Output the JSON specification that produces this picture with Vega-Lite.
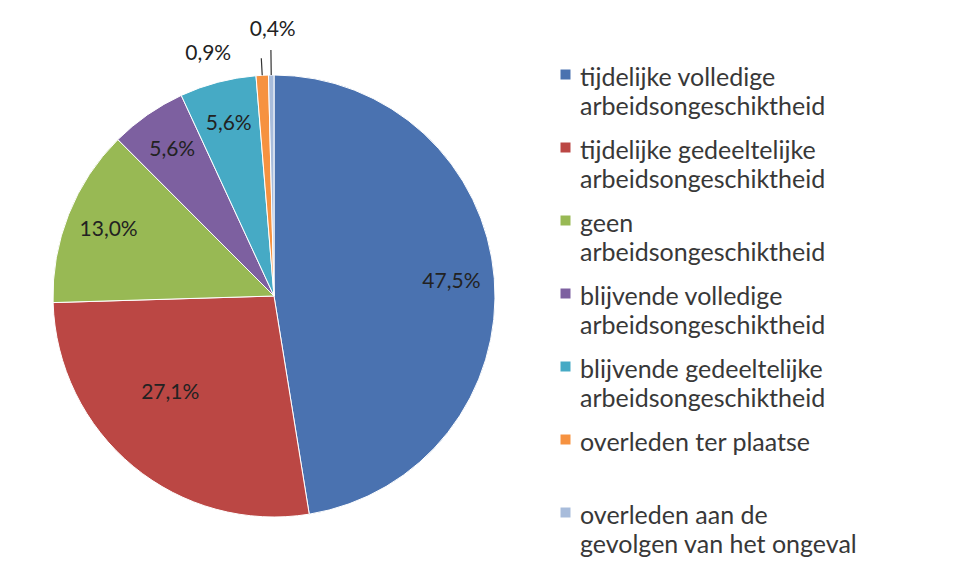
{
  "$schema": "https://vega.github.io/schema/vega-lite/v6.json",
  "width": 442,
  "height": 442,
  "autosize": {"type": "none"},
  "padding": {"left": 53, "top": 75, "right": 459, "bottom": 62},
  "background": "white",
  "data": {
    "values": [
      {"idx": 0, "cat": "tijdelijke volledige arbeidsongeschiktheid", "pct": 47.5, "label": "47,5%"},
      {"idx": 1, "cat": "tijdelijke gedeeltelijke arbeidsongeschiktheid", "pct": 27.1, "label": "27,1%"},
      {"idx": 2, "cat": "geen arbeidsongeschiktheid", "pct": 13.0, "label": "13,0%"},
      {"idx": 3, "cat": "blijvende volledige arbeidsongeschiktheid", "pct": 5.6, "label": "5,6%"},
      {"idx": 4, "cat": "blijvende gedeeltelijke arbeidsongeschiktheid", "pct": 5.6, "label": "5,6%"},
      {"idx": 5, "cat": "overleden ter plaatse", "pct": 0.9, "label": "0,9%"},
      {"idx": 6, "cat": "overleden aan de gevolgen van het ongeval", "pct": 0.4, "label": "0,4%"}
    ]
  },
  "encoding": {
    "theta": {"field": "pct", "type": "quantitative", "stack": true},
    "order": {"field": "idx", "type": "quantitative"}
  },
  "layer": [
    {
      "mark": {"type": "arc", "stroke": "white", "strokeWidth": 1},
      "encoding": {
        "color": {
          "field": "cat",
          "type": "nominal",
          "scale": {
            "domain": [
              "tijdelijke volledige arbeidsongeschiktheid",
              "tijdelijke gedeeltelijke arbeidsongeschiktheid",
              "geen arbeidsongeschiktheid",
              "blijvende volledige arbeidsongeschiktheid",
              "blijvende gedeeltelijke arbeidsongeschiktheid",
              "overleden ter plaatse",
              "overleden aan de gevolgen van het ongeval"
            ],
            "range": ["#4A72B0", "#BB4744", "#98B954", "#7D60A0", "#46AAC5", "#F69240", "#A8BCDB"]
          },
          "legend": {
            "orient": "none",
            "legendX": 500,
            "legendY": -13,
            "padding": 0,
            "title": null,
            "symbolType": "square",
            "symbolSize": 100,
            "symbolStrokeWidth": 0,
            "labelOffset": 2,
            "labelFont": "Lato",
            "labelFontSize": 25,
            "labelColor": "#383838",
            "labelBaseline": "top",
            "labelLimit": 0,
            "rowPadding": 15,
            "labelExpr": "indexof(datum.label, ' arbeidsongeschiktheid') > 0 ? [replace(datum.label, ' arbeidsongeschiktheid', ''), 'arbeidsongeschiktheid'] : datum.label == 'overleden ter plaatse' ? ['overleden ter plaatse', ''] : ['overleden aan de', 'gevolgen van het ongeval']"
          }
        }
      }
    },
    {
      "mark": {"type": "text", "radius": 178, "font": "Lato", "fontSize": 21, "fill": "#222222"},
      "encoding": {
        "text": {"condition": {"test": "datum.idx == 0 || datum.idx == 2 || datum.idx == 3 || datum.idx == 4", "field": "label"}, "value": ""}
      }
    },
    {
      "mark": {"type": "text", "radius": 141, "dx": -14, "dy": -12, "font": "Lato", "fontSize": 21, "fill": "#222222"},
      "encoding": {
        "text": {"condition": {"test": "datum.idx == 1", "field": "label"}, "value": ""}
      }
    },
    {
      "mark": {"type": "text", "radius": 240, "dx": -53, "dy": -2, "font": "Lato", "fontSize": 21, "fill": "#222222"},
      "encoding": {
        "text": {"condition": {"test": "datum.idx == 5", "field": "label"}, "value": ""}
      }
    },
    {
      "mark": {"type": "text", "radius": 264, "dx": 2, "dy": -2, "font": "Lato", "fontSize": 21, "fill": "#222222"},
      "encoding": {
        "text": {"condition": {"test": "datum.idx == 6", "field": "label"}, "value": ""}
      }
    },
    {
      "mark": {"type": "arc", "radius": 246, "radius2": 221, "padAngle": 0.4, "fillOpacity": 0, "stroke": "#333333", "strokeWidth": 1.2},
      "encoding": {
        "strokeOpacity": {"condition": {"test": "datum.idx == 6", "value": 1}, "value": 0}
      }
    },
    {
      "mark": {"type": "arc", "radius": 238, "radius2": 221, "padAngle": 0.4, "fillOpacity": 0, "stroke": "#333333", "strokeWidth": 1.2},
      "encoding": {
        "strokeOpacity": {"condition": {"test": "datum.idx == 5", "value": 1}, "value": 0}
      }
    }
  ],
  "config": {
    "view": {"stroke": null},
    "style": {"guide-label": {"lineHeight": 29, "dy": -9}}
  }
}
